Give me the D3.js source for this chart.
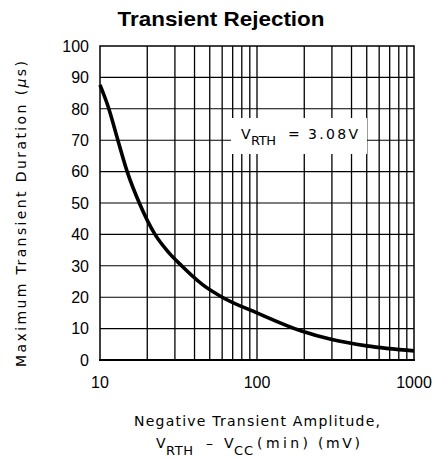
<!DOCTYPE html>
<html><head><meta charset="utf-8">
<script src="https://cdn.jsdelivr.net/npm/d3@7"></script>
<style>body{margin:0;background:#fff}svg{display:block}text{fill:#000}</style>
</head><body>
<script>
const titleText = "Transient Rejection";
const amplitude = [10, 11.3, 13, 14.9, 17.8, 22.4, 27, 33.1, 45, 60, 100, 190, 300, 500, 1000];
const duration  = [87.6, 80.5, 70, 60, 50, 40, 34.6, 30, 24, 20, 15.0, 9.3, 6.5, 4.5, 2.9];
const yTicks = [0,10,20,30,40,50,60,70,80,90,100];
const xTickLabels = [10, 100, 1000];
const xGrid = [20,30,40,50,60,70,80,90,100,200,300,400,500,600,700,800,900];
const yGrid = [10,20,30,40,50,60,70,80,90];

const W = 441, H = 459;
const m = {l:100, r:414, t:46, b:360};
const svg = d3.select("body").append("svg").attr("width", W).attr("height", H);
const x = d3.scaleLog().domain([10,1000]).range([m.l, m.r]);
const y = d3.scaleLinear().domain([0,100]).range([m.b, m.t]);
const font = "'Liberation Sans', Arial, sans-serif";
const lfont = "'DejaVu Sans', sans-serif";

svg.append("text").attr("x", 221).attr("y", 26).attr("text-anchor","middle")
  .style("font-family", font).style("font-weight","bold").style("font-size","21px")
  .attr("textLength", 207).attr("lengthAdjust","spacingAndGlyphs").text(titleText);

const g = svg.append("g");
g.selectAll("line.v").data(xGrid).join("line").attr("class","v")
  .attr("x1", d=>x(d)).attr("x2", d=>x(d)).attr("y1", m.t).attr("y2", m.b)
  .attr("stroke","#000").attr("stroke-width",1.3);
g.selectAll("line.h").data(yGrid).join("line").attr("class","h")
  .attr("x1", m.l).attr("x2", m.r).attr("y1", d=>y(d)).attr("y2", d=>y(d))
  .attr("stroke","#000").attr("stroke-width",1.1);
g.append("rect").attr("x", m.l).attr("y", m.t).attr("width", m.r-m.l).attr("height", m.b-m.t)
  .attr("fill","none").attr("stroke","#000").attr("stroke-width",1.5);
g.append("line").attr("x1", m.l-1).attr("x2", m.r+1).attr("y1", m.b).attr("y2", m.b)
  .attr("stroke","#000").attr("stroke-width",2.2);

// annotation box
g.append("rect").attr("x", 231).attr("y", 118).attr("width", 136).attr("height", 36).attr("fill","#fff");
const ann = g.append("text").attr("y", 139).style("font-family", lfont).style("font-size","14px");
ann.append("tspan").attr("x", 241).text("V");
ann.append("tspan").attr("x", 251).attr("dy", 6).style("font-size","13px")
  .attr("textLength", 25).attr("lengthAdjust","spacing").text("RTH");
ann.append("tspan").attr("x", 288).attr("dy", -6).text("=");
ann.append("tspan").attr("x", 308).attr("textLength", 50).attr("lengthAdjust","spacing").text("3.08V");

// curve
const pts = amplitude.map((a,i)=>[a, duration[i]]);
g.append("path").datum(pts)
  .attr("d", d3.line().x(d=>x(d[0])).y(d=>y(d[1])).curve(d3.curveMonotoneX))
  .attr("fill","none").attr("stroke","#000").attr("stroke-width",3.6);

// y ticks
svg.selectAll("text.yt").data(yTicks).join("text").attr("class","yt")
  .attr("x", 89).attr("y", d=>y(d)).attr("dy","0.36em").attr("text-anchor","end")
  .style("font-family", font).style("font-size","16px").text(d=>d);
// x ticks
svg.selectAll("text.xt").data(xTickLabels).join("text").attr("class","xt")
  .attr("x", d=>x(d)).attr("y", 388).attr("text-anchor","middle")
  .style("font-family", font).style("font-size","16px").text(d=>d);

// y label
const yl = svg.append("text").attr("transform","translate(26,214) rotate(-90)")
  .attr("text-anchor","middle").style("font-family", lfont).style("font-size","14px")
  .attr("textLength", 306).attr("lengthAdjust","spacing");
yl.append("tspan").text("Maximum Transient Duration (");
yl.append("tspan").style("font-style","italic").text("μ");
yl.append("tspan").text("s)");

// x label
svg.append("text").attr("x", 257).attr("y", 426).attr("text-anchor","middle")
  .style("font-family", lfont).style("font-size","14px")
  .attr("textLength", 246).attr("lengthAdjust","spacing").text("Negative Transient Amplitude,");
const xl2 = svg.append("text").attr("y", 448).style("font-family", lfont).style("font-size","14px");
xl2.append("tspan").attr("x", 156).text("V");
xl2.append("tspan").attr("x", 166).attr("dy", 7).style("font-size","13px")
  .attr("textLength", 27).attr("lengthAdjust","spacing").text("RTH");
xl2.append("tspan").attr("x", 206).attr("dy", -7).text("–");
xl2.append("tspan").attr("x", 224).text("V");
xl2.append("tspan").attr("x", 234).attr("dy", 7).style("font-size","13px")
  .attr("textLength", 19).attr("lengthAdjust","spacing").text("CC");
xl2.append("tspan").attr("x", 257).attr("dy", -7).attr("textLength", 51).attr("lengthAdjust","spacing").text("(min)");
xl2.append("tspan").attr("x", 318).attr("textLength", 42).attr("lengthAdjust","spacing").text("(mV)");
</script>
</body></html>
